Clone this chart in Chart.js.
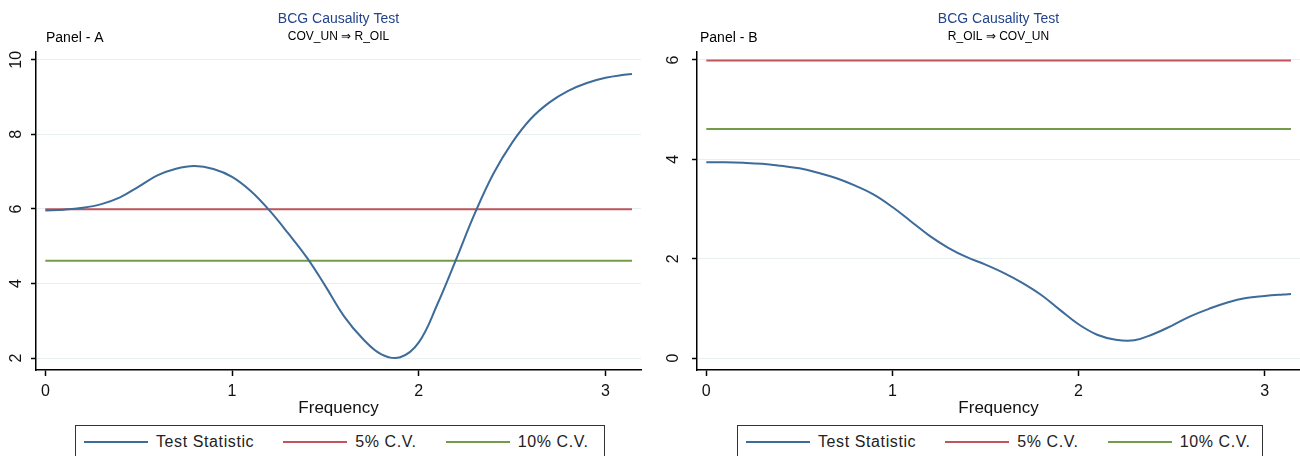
<!DOCTYPE html>
<html>
<head>
<meta charset="utf-8">
<script src="https://cdn.jsdelivr.net/npm/chart.js@4.4.0/dist/chart.umd.min.js"></script>
<style>
  body { margin: 0; background: #fff; width: 1300px; height: 456px; overflow: hidden; position: relative;
         font-family: "Liberation Sans", Arial, sans-serif; }
  .panel { position: absolute; top: 0; width: 650px; height: 420px; }
  .legend { position: absolute; top: 425px; height: 33px; border: 1.5px solid #333; box-sizing: border-box;
            display: flex; align-items: center; padding-left: 8px; font-size: 16px; letter-spacing: 0.6px;
            color: #222; white-space: nowrap; }
  .legend .item { display: flex; align-items: center; margin-right: 29px; }
  .legend .ln { display: inline-block; width: 64px; height: 2px; margin-right: 8px; }
</style>
</head>
<body>
<div class="panel" style="left:0"><canvas id="panelA" width="650" height="420"></canvas></div>
<div class="panel" style="left:650px"><canvas id="panelB" width="650" height="420"></canvas></div>
<div class="legend" id="legendA" style="left:75px;width:530px"></div>
<div class="legend" id="legendB" style="left:737px;width:526px"></div>
<script>
// frequency grid (0 .. pi)
const freq = [0, 0.1, 0.2, 0.3, 0.4, 0.5, 0.6, 0.7, 0.8, 0.9, 1.0, 1.1, 1.2, 1.3, 1.4, 1.5,
              1.6, 1.7, 1.8, 1.9, 2.0, 2.1, 2.2, 2.3, 2.4, 2.5, 2.6, 2.7, 2.8, 2.9, 3.0, 3.1, 3.1416];

// Panel A: COV_UN => R_OIL
const testA = [5.96, 5.98, 6.03, 6.13, 6.31, 6.60, 6.90, 7.08, 7.15, 7.07, 6.86, 6.48, 5.96, 5.35, 4.70, 3.93,
               3.12, 2.52, 2.10, 2.02, 2.42, 3.45, 4.65, 5.88, 6.95, 7.78, 8.42, 8.86, 9.17, 9.38, 9.52, 9.60, 9.62];
// Panel B: R_OIL => COV_UN
const testB = [3.94, 3.94, 3.93, 3.91, 3.87, 3.82, 3.73, 3.62, 3.47, 3.29, 3.04, 2.75, 2.46, 2.22, 2.03, 1.88,
               1.71, 1.51, 1.27, 0.97, 0.68, 0.47, 0.37, 0.36, 0.48, 0.65, 0.84, 0.99, 1.12, 1.21, 1.25, 1.28, 1.29];

const cvEnds = [0, 3.1416];
const cv5 = 5.99;
const cv10 = 4.61;

const xTicks = [0, 1, 2, 3];
const yTicksA = [2, 4, 6, 8, 10];
const yTicksB = [0, 2, 4, 6];

const seriesNames = ['Test Statistic', '5% C.V.', '10% C.V.'];
const seriesColors = ['#3d6b9a', '#c0565b', '#739b48'];

Chart.defaults.font.family = '"Liberation Sans", Arial, sans-serif';

const panelText = {
    id: 'panelText',
    afterDraw(chart, args, o) {
        const { ctx, chartArea } = chart;
        const cx = (chartArea.left + chartArea.right) / 2;
        ctx.save();
        ctx.textAlign = 'center';
        ctx.textBaseline = 'middle';
        ctx.fillStyle = '#24448a';
        ctx.font = '14px "Liberation Sans", Arial';
        ctx.fillText(o.title, cx, 19);
        ctx.fillStyle = '#000';
        ctx.font = '12px "Liberation Sans", Arial';
        ctx.fillText(o.subtitle, cx, 37);
        ctx.textAlign = 'left';
        ctx.font = '14px "Liberation Sans", Arial';
        ctx.fillText(o.label, chartArea.left + o.labelDx, 38);
        ctx.restore();
    }
};

function lineSet(i, pts) {
    return {
        label: seriesNames[i],
        data: pts,
        borderColor: seriesColors[i],
        borderWidth: 2,
        pointRadius: 0,
        tension: 0.4,
        fill: false
    };
}

function makePanel(id, test, yMin, yMax, yTicks, axisW, tickPad, padRight, text) {
    const ctx = document.getElementById(id).getContext('2d');
    return new Chart(ctx, {
        type: 'line',
        data: {
            datasets: [
                lineSet(0, freq.map((f, i) => ({ x: f, y: test[i] }))),
                lineSet(1, cvEnds.map(f => ({ x: f, y: cv5 }))),
                lineSet(2, cvEnds.map(f => ({ x: f, y: cv10 })))
            ]
        },
        options: {
            responsive: false,
            animation: false,
            layout: { padding: { top: 52, right: padRight, left: 0, bottom: 0 } },
            plugins: {
                legend: { display: false },
                tooltip: { enabled: false },
                panelText: text
            },
            scales: {
                x: {
                    type: 'linear',
                    min: -0.05,
                    max: 3.19,
                    afterBuildTicks: s => { s.ticks = xTicks.map(v => ({ value: v })); },
                    afterFit: s => { s.height = 50; },
                    border: { color: '#000', width: 1.5 },
                    grid: { drawOnChartArea: false, tickColor: '#000', tickLength: 6, tickWidth: 1.5 },
                    ticks: { padding: 6, color: '#111', font: { size: 16 } },
                    title: { display: true, text: 'Frequency', color: '#111', font: { size: 17 }, padding: { top: 0, bottom: 1 } }
                },
                y: {
                    min: yMin,
                    max: yMax,
                    afterBuildTicks: s => { s.ticks = yTicks.map(v => ({ value: v })); },
                    afterFit: s => { s.width = axisW; },
                    border: { color: '#000', width: 1.5 },
                    grid: { color: '#e8eff1', tickColor: '#000', tickLength: 5, tickWidth: 1.5 },
                    ticks: { minRotation: 90, maxRotation: 90, crossAlign: 'center', padding: tickPad, color: '#111', font: { size: 16 } }
                }
            }
        },
        plugins: [panelText]
    });
}

function buildLegend(id) {
    const box = document.getElementById(id);
    seriesNames.forEach((name, i) => {
        const item = document.createElement('div');
        item.className = 'item';
        const ln = document.createElement('span');
        ln.className = 'ln';
        ln.style.background = seriesColors[i];
        item.appendChild(ln);
        item.appendChild(document.createTextNode(name));
        box.appendChild(item);
    });
}

makePanel('panelA', testA, 1.68, 10.21, yTicksA, 36, 6, 9,
    { title: 'BCG Causality Test', subtitle: 'COV_UN \u21D2 R_OIL', label: 'Panel - A', labelDx: 10 });
makePanel('panelB', testB, -0.24, 6.16, yTicksB, 47, 14, 0,
    { title: 'BCG Causality Test', subtitle: 'R_OIL \u21D2 COV_UN', label: 'Panel - B', labelDx: 3 });
buildLegend('legendA');
buildLegend('legendB');
</script>
</body>
</html>
